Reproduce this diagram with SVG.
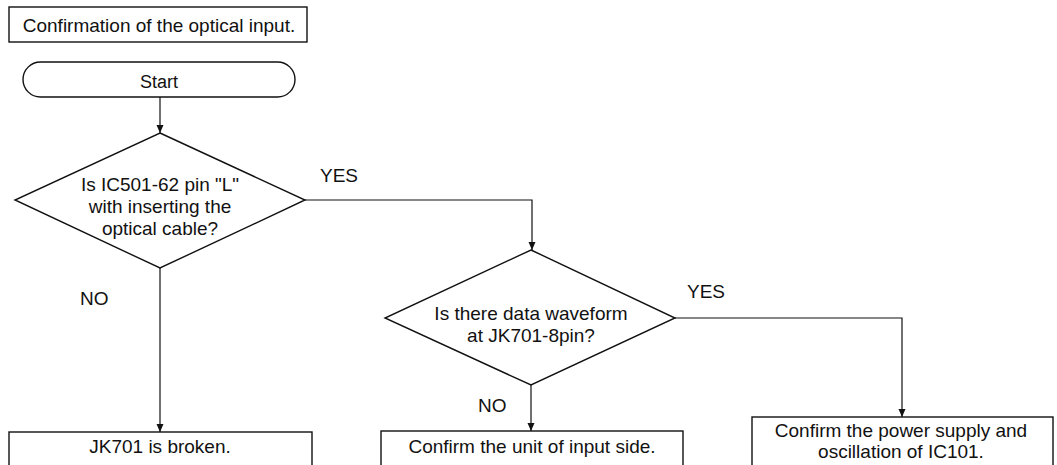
<svg xmlns="http://www.w3.org/2000/svg" width="1057" height="465" viewBox="0 0 1057 465">
<style>
.s{fill:#fff;stroke:#111;stroke-width:1.4}
.t{font-family:"Liberation Sans",Arial,sans-serif;font-size:19px;fill:#111;text-anchor:middle}
.l{font-family:"Liberation Sans",Arial,sans-serif;font-size:19px;fill:#111}
.c{fill:none;stroke:#111;stroke-width:1.2;marker-end:url(#a)}
</style>
<defs>
<marker id="a" viewBox="0 0 8 10" refX="8" refY="5" markerWidth="8" markerHeight="10" markerUnits="userSpaceOnUse" orient="auto">
<path d="M0,1.5 L8,5 L0,8.5 Z" fill="#111"/>
</marker>
</defs>
<rect width="1057" height="465" fill="#fff"/>
<g id="title">
<rect class="s" x="9" y="7" width="298" height="35"/>
<text class="t" x="159" y="32">Confirmation of the optical input.</text>
</g>
<g id="start">
<rect class="s" x="23" y="62" width="272" height="35" rx="17.5" ry="17.5"/>
<text class="t" x="159" y="88" style="font-size:18px">Start</text>
</g>
<g id="q1">
<polygon class="s" points="160,133 305,200 160,268 15,200"/>
<text class="t" x="160" y="191">Is IC501-62 pin "L"</text>
<text class="t" x="160" y="213">with inserting the</text>
<text class="t" x="160" y="235">optical cable?</text>
</g>
<g id="q2">
<polygon class="s" points="531,250 675,318 531,385 385,318"/>
<text class="t" x="531" y="320">Is there data waveform</text>
<text class="t" x="531" y="342">at JK701-8pin?</text>
</g>
<g id="r1">
<rect class="s" x="9" y="432" width="303" height="50"/>
<text class="t" x="160" y="453">JK701 is broken.</text>
</g>
<g id="r2">
<rect class="s" x="381" y="431" width="302" height="50"/>
<text class="t" x="532" y="453">Confirm the unit of input side.</text>
</g>
<g id="r3">
<rect class="s" x="752" y="417" width="301" height="60"/>
<text class="t" x="901" y="437">Confirm the power supply and</text>
<text class="t" x="901" y="458">oscillation of IC101.</text>
</g>
<g id="connectors">
<path class="c" d="M160,97 V133"/>
<path class="c" d="M305,200 H532 V250"/>
<path class="c" d="M160,268 V432"/>
<path class="c" d="M531,385 V431"/>
<path class="c" d="M675,318 H902 V417"/>
<text class="l" x="320" y="182">YES</text>
<text class="l" x="80" y="305">NO</text>
<text class="l" x="478" y="412">NO</text>
<text class="l" x="687" y="298">YES</text>
</g>
</svg>
